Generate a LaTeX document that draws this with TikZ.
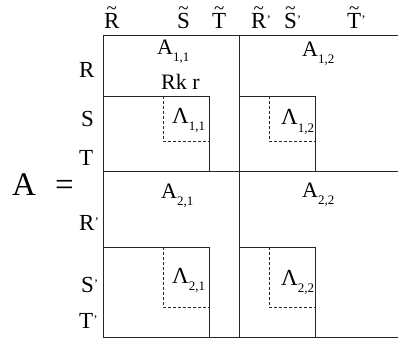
\documentclass[tikz,border=0pt]{standalone}
\usepackage{fontspec}
\setmainfont{Liberation Serif}
\newcommand{\mysub}[1]{\raisebox{-7pt}{\fontsize{13}{13}\selectfont #1}}
\newcommand{\mypr}{\raisebox{4pt}{\fontsize{13}{13}\selectfont ’}}
\newcommand{\mytld}[1]{\ooalign{#1\cr\hidewidth\raisebox{14.5pt}{\fontsize{19}{19}\selectfont\char"7E}\hidewidth\cr}}
\begin{document}
\begin{tikzpicture}[x=1pt,y=-1pt,
  lab/.style={anchor=base west,inner sep=0pt,font=\fontsize{23}{23}\selectfont},
  blk/.style={anchor=base west,inner sep=0pt,font=\fontsize{22}{22}\selectfont},
  gridline/.style={draw=black!85,line width=0.8pt},
  dashline/.style={draw=black!85,line width=0.8pt,dash pattern=on 3pt off 2pt}]
\useasboundingbox (0,0) rectangle (398,339);
% top labels
\node[lab] (tR) at (104,29) {\mytld{R}};
\node[lab] (tS) at (177,29) {\mytld{S}};
\node[lab] (tT) at (212,29) {\mytld{T}};
\node[lab] (tR2) at (251,29) {\mytld{R}\mypr};
\node[lab] (tS2) at (284,29) {\mytld{S}\mypr};
\node[lab] (tT2) at (347,29) {\mytld{T}\mypr};
% left labels
\node[lab] (lR) at (79,78) {R};
\node[lab] (lS) at (81,127) {S};
\node[lab] (lT) at (79,165) {T};
\node[lab] (lR2) at (79,230) {R\mypr};
\node[lab] (lS2) at (81,292) {S\mypr};
\node[lab] (lT2) at (79,328) {T\mypr};
\node[lab,font=\fontsize{33}{33}\selectfont] (bigA) at (12,195) {A};
\node[lab,font=\fontsize{33}{33}\selectfont] (eq) at (55,195) {=};
% grid
\draw[gridline] (103,35.5) -- (398,35.5);
\draw[gridline] (103,171.5) -- (398,171.5);
\draw[gridline] (103,337.5) -- (398,337.5);
\draw[gridline] (103,35.5) -- (103,337.5);
\draw[gridline] (239,35.5) -- (239,337.5);
% inner solid boxes
\draw[gridline] (103,96) rectangle (209,171.5);
\draw[gridline] (239,96) rectangle (315,171.5);
\draw[gridline] (103,247) rectangle (209,337.5);
\draw[gridline] (239,247) rectangle (315,337.5);
% dashed boxes
\draw[dashline] (163,96) -- (163,141) -- (209,141);
\draw[dashline] (269,96) -- (269,141) -- (315,141);
\draw[dashline] (163,247) -- (163,307) -- (209,307);
\draw[dashline] (269,247) -- (269,307) -- (315,307);
% block labels
\node[blk] (a11) at (157,55) {A\mysub{1,1}};
\node[blk] (rk) at (161,90) {Rk r};
\node[lab] (l11) at (172,124) {Λ\mysub{1,1}};
\node[blk] (a12) at (302,57) {A\mysub{1,2}};
\node[lab] (l12) at (281,125) {Λ\mysub{1,2}};
\node[blk] (a21) at (161,198) {A\mysub{2,1}};
\node[lab] (l21) at (172,283) {Λ\mysub{2,1}};
\node[blk] (a22) at (302,197) {A\mysub{2,2}};
\node[lab] (l22) at (281,285) {Λ\mysub{2,2}};
\end{tikzpicture}
\end{document}
